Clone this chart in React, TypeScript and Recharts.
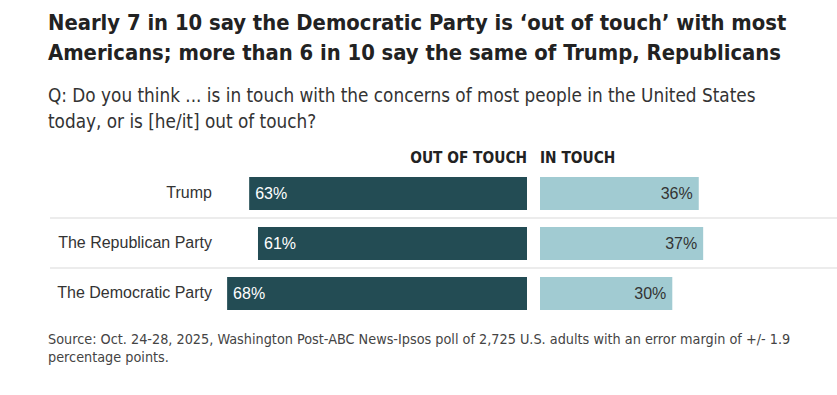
import React from 'react';
import { BarChart, Bar, XAxis, YAxis, LabelList } from 'recharts';

const categories = ['Trump', 'The Republican Party', 'The Democratic Party'];
const outOfTouch = [63, 61, 68];
const inTouch = [36, 37, 30];

const data = categories.map((name, i) => ({ name, out: outOfTouch[i], in: inTouch[i] }));

const DARK = '#234c54';
const LIGHT = '#a1cbd2';
const PX_PER_PCT = 4.41;
const ROW_H = 50;
const FONT = '"Liberation Sans", Arial, sans-serif';
const NARROW = '"DejaVu Sans Condensed", "Liberation Sans Narrow", Arial, sans-serif';

// category label + row separator drawn from the band top
const CategoryTick = (props: any) => {
  const { x, y, payload, index } = props;
  return (
    <g>
      {index > 0 && (
        <line x1={50} x2={837} y1={y - ROW_H / 2} y2={y - ROW_H / 2} stroke="#d9d9d9" strokeWidth={1.2} />
      )}
      <text x={x + 6} y={y} dy={5} textAnchor="end" fontSize={16} fill="#333" fontFamily={FONT}>
        {payload.value}
      </text>
    </g>
  );
};

const OutLabel = (props: any) => {
  const { x, y, width, height, value } = props;
  const left = Math.min(x, x + width);
  return (
    <text x={left + 6} y={y + height / 2} dy={5.5} fontSize={16} fill="#fff" fontFamily={FONT}>
      {value}%
    </text>
  );
};

const InLabel = (props: any) => {
  const { x, y, width, height, value } = props;
  const right = Math.max(x, x + width);
  return (
    <text x={right - 6} y={y + height / 2} dy={5.5} textAnchor="end" fontSize={16} fill="#333" fontFamily={FONT}>
      {value}%
    </text>
  );
};

const App: React.FC = () => {
  return (
    <div style={{ position: 'relative', width: 837, height: 395, background: '#fff', fontFamily: FONT, color: '#222' }}>
      <style>{'body{margin:0}'}</style>
      <div style={{ position: 'absolute', left: 48, top: 8, width: 780, fontFamily: NARROW, fontWeight: 'bold', fontSize: 21.8, lineHeight: '30px', color: '#222' }}>
        Nearly 7 in 10 say the Democratic Party is ‘out of touch’ with most<br />
        Americans; more than 6 in 10 say the same of Trump, Republicans
      </div>
      <div style={{ position: 'absolute', left: 48, top: 83, width: 790, fontFamily: NARROW, fontSize: 18.8, lineHeight: '26px', color: '#333' }}>
        Q: Do you think ... is in touch with the concerns of most people in the United States<br />
        today, or is [he/it] out of touch?
      </div>
      <div style={{ position: 'absolute', right: 310, top: 148, fontFamily: NARROW, fontWeight: 'bold', fontSize: 15.3, lineHeight: '20px', color: '#222' }}>
        OUT OF TOUCH
      </div>
      <div style={{ position: 'absolute', left: 540, top: 148, fontFamily: NARROW, fontWeight: 'bold', fontSize: 15.3, lineHeight: '20px', color: '#222' }}>
        IN TOUCH
      </div>

      <div style={{ position: 'absolute', left: 0, top: 168 }}>
        <BarChart width={837} height={ROW_H * categories.length} data={data} layout="vertical" margin={{ top: 0, right: 310, bottom: 0, left: 0 }} barCategoryGap={0}>
          <XAxis type="number" domain={[0, 307 / PX_PER_PCT]} reversed hide />
          <YAxis type="category" dataKey="name" width={220} tickLine={false} axisLine={false} tickMargin={8} tick={<CategoryTick />} interval={0} />
          <Bar dataKey="out" fill={DARK} barSize={33} isAnimationActive={false}>
            <LabelList dataKey="out" content={<OutLabel />} />
          </Bar>
        </BarChart>
      </div>

      <div style={{ position: 'absolute', left: 540, top: 168 }}>
        <BarChart width={297} height={ROW_H * categories.length} data={data} layout="vertical" margin={{ top: 0, right: 0, bottom: 0, left: 0 }}>
          <XAxis type="number" domain={[0, 297 / PX_PER_PCT]} hide />
          <YAxis type="category" dataKey="name" hide />
          <Bar dataKey="in" fill={LIGHT} barSize={33} isAnimationActive={false}>
            <LabelList dataKey="in" content={<InLabel />} />
          </Bar>
        </BarChart>
      </div>

      <div style={{ position: 'absolute', left: 48, top: 330, width: 790, fontFamily: NARROW, fontSize: 14.3, lineHeight: '18px', color: '#444' }}>
        Source: Oct. 24-28, 2025, Washington Post-ABC News-Ipsos poll of 2,725 U.S. adults with an error margin of +/- 1.9<br />
        percentage points.
      </div>
    </div>
  );
};

export default App;
